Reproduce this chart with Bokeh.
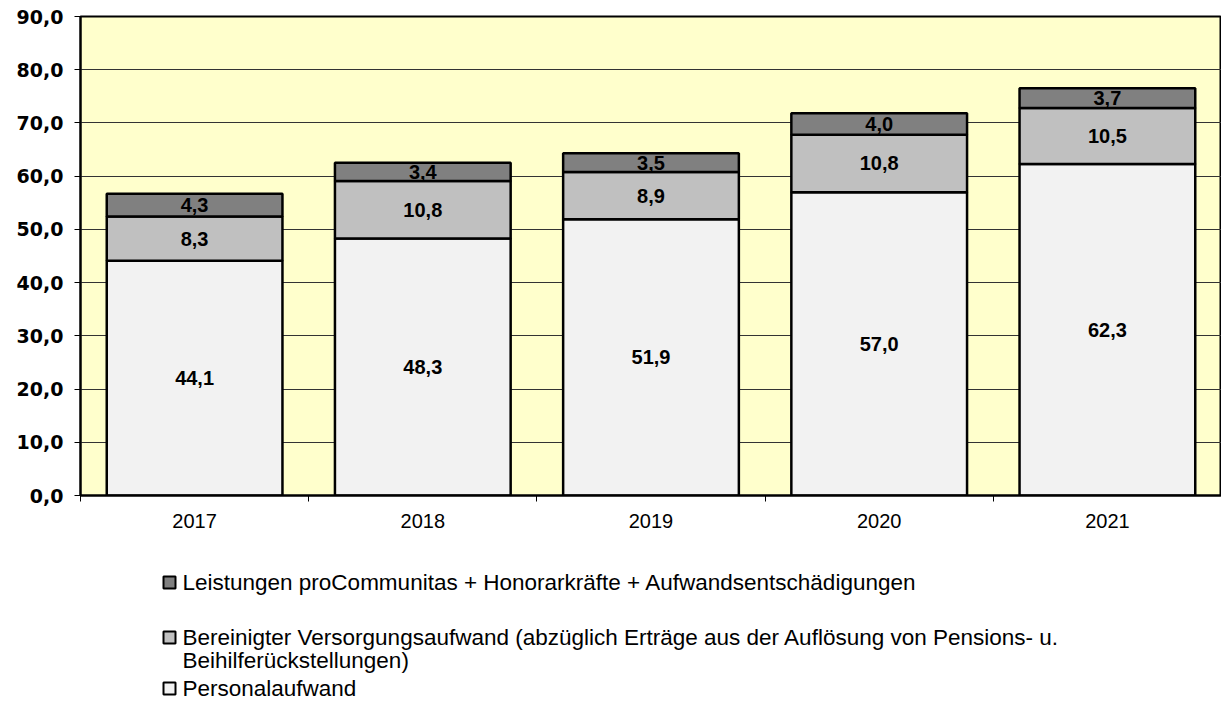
from bokeh.plotting import figure
from bokeh.models import (ColumnDataSource, LabelSet, FixedTicker, CustomJSTickFormatter,
                          Range1d)
from bokeh.layouts import column
from bokeh.embed import file_html
from bokeh.resources import INLINE
from bokeh.core.properties import value

# ---------------- data ----------------
years = ["2017", "2018", "2019", "2020", "2021"]
personalaufwand = [44.1, 48.3, 51.9, 57.0, 62.3]
versorgungsaufwand = [8.3, 10.8, 8.9, 10.8, 10.5]
leistungen = [4.3, 3.4, 3.5, 4.0, 3.7]
series_labels = [
    "Personalaufwand",
    "Bereinigter Versorgungsaufwand (abzüglich Erträge aus der Auflösung von Pensions- u.\nBeihilferückstellungen)",
    "Leistungen proCommunitas + Honorarkräfte + Aufwandsentschädigungen",
]
series_colors = ["#F2F2F2", "#C0C0C0", "#808080"]
y_ticks = [0, 10, 20, 30, 40, 50, 60, 70, 80, 90]

# ---------------- chart ----------------
xs = [i + 1 for i in range(len(years))]
series = [personalaufwand, versorgungsaufwand, leistungen]
keys = ["s0", "s1", "s2"]
src = ColumnDataSource(data=dict(x=xs, s0=personalaufwand, s1=versorgungsaufwand, s2=leistungen))

W = 1221
LEFT = 80
H1 = 538
p = figure(width=W, height=H1, output_backend="svg", toolbar_location=None,
           x_range=Range1d(0.5, len(years) + 0.5), y_range=Range1d(0, 90),
           min_border_left=LEFT, min_border_right=0, min_border_top=16, min_border_bottom=43)
p.border_fill_color = "white"
p.background_fill_color = "#FFFFCC"
p.outline_line_color = "black"
p.outline_line_width = 2

p.vbar_stack(keys, x="x", width=0.77, source=src, color=series_colors,
             line_color="black", line_width=2.5)

# segment labels
lx, ly, lt = [], [], []
for i, x in enumerate(xs):
    base = 0.0
    for s in series:
        v = s[i]
        lx.append(x)
        ly.append(base + v / 2.0)
        lt.append(f"{v:.1f}".replace(".", ","))
        base += v
lsrc = ColumnDataSource(data=dict(x=lx, y=ly, t=lt))
p.add_layout(LabelSet(x="x", y="y", text="t", source=lsrc, text_align="center",
                      text_baseline="middle", text_font=value("Liberation Sans"),
                      text_font_style="bold", text_font_size="20px", text_color="black"))

# y axis
p.yaxis.ticker = FixedTicker(ticks=y_ticks)
p.yaxis.formatter = CustomJSTickFormatter(code="return tick.toFixed(1).replace('.', ',');")
p.yaxis.major_label_text_font = "DejaVu Sans"
p.yaxis.major_label_text_font_style = "bold"
p.yaxis.major_label_text_font_size = "19px"
p.yaxis.major_label_text_color = "black"
p.yaxis.major_tick_out = 6
p.yaxis.major_tick_in = 0
p.yaxis.minor_tick_out = 0
p.yaxis.minor_tick_in = 0
p.yaxis.axis_line_color = "black"
p.yaxis.axis_line_width = 2
p.yaxis.major_tick_line_color = "black"
p.yaxis.major_label_standoff = 11

# x axis: labels at centers, ticks at category boundaries
bounds = [x - 0.5 for x in xs] + [xs[-1] + 0.5]
p.xaxis.ticker = FixedTicker(ticks=xs, minor_ticks=bounds)
p.xaxis.major_label_overrides = {x: y for x, y in zip(xs, years)}
p.xaxis.major_tick_out = 0
p.xaxis.major_tick_in = 0
p.xaxis.minor_tick_out = 6
p.xaxis.minor_tick_in = 0
p.xaxis.minor_tick_line_color = "black"
p.xaxis.axis_line_color = "black"
p.xaxis.axis_line_width = 2
p.xaxis.major_label_text_font = "Liberation Sans"
p.xaxis.major_label_text_font_size = "20px"
p.xaxis.major_label_text_color = "black"
p.xaxis.major_label_standoff = 12

p.xgrid.grid_line_color = None
p.ygrid.ticker = FixedTicker(ticks=y_ticks)
p.ygrid.grid_line_color = "#333333"
p.ygrid.grid_line_width = 1

# ---------------- legend (separate panel, frame aligned with chart frame) ----------------
H2 = 725 - H1
lg = figure(width=W, height=H2, output_backend="svg", toolbar_location=None,
            x_range=Range1d(LEFT, W), y_range=Range1d(H2, 0),
            x_axis_location=None, y_axis_location=None,
            min_border_left=LEFT, min_border_right=0, min_border_top=0, min_border_bottom=0)
lg.grid.visible = False
lg.outline_line_color = None
lg.background_fill_color = "white"
lg.border_fill_color = "white"

order = [2, 1, 0]
row_y = [44, 99, 150]
line_h = 23
sq_x = 169
tx_x = 182
sq_l, sq_y, sq_c = [], [], []
t_x, t_y, t_t = [], [], []
for k, idx in enumerate(order):
    sq_l.append(sq_x)
    sq_y.append(row_y[k])
    sq_c.append(series_colors[idx])
    for j, line in enumerate(series_labels[idx].split("\n")):
        t_x.append(tx_x)
        t_y.append(row_y[k] + j * line_h)
        t_t.append(line)
lg.rect(x=sq_l, y=sq_y, width=12, height=12, width_units="screen", height_units="screen",
        fill_color=sq_c, line_color="black", line_width=2)
lg.text(x=t_x, y=t_y, text=t_t, text_font=value("Liberation Sans"), text_font_size="22.5px",
        text_baseline="middle", text_align="left", text_color="black")

layout = column(p, lg, spacing=0)
open("out.html", "w").write(file_html(layout, INLINE))
